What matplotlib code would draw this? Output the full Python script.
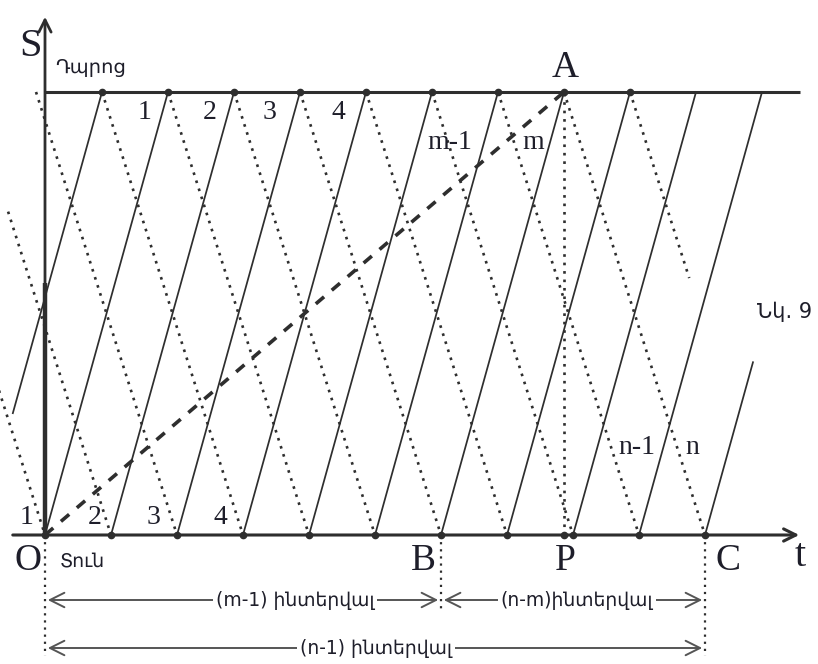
import matplotlib
matplotlib.use('Agg')
import matplotlib.pyplot as plt

# schedule, time in intervals, path S from 0 (home) to 1 (school)
home_times = [-1, 0, 1, 2, 3, 4, 5, 6, 7, 8, 9, 10]   # solid lines start
up_time = 1.864
down_time = 2.136
back_starts = [-4, -3, -2, -1, 0, 1, 2, 3, 4, 5, 6, 7]  # buses coming back (dotted)
dot_home = [0, 1, 2, 3, 4, 5, 6, 7, 8, 9, 10]
dot_school = [-1, 0, 1, 2, 3, 4, 5, 6, 7]
m_bus = 6          # B
n_bus = 10         # C
top_labels = ['1', '2', '3', '4']
bottom_labels = ['1', '2', '3', '4']

# partial lines at the ends
up_from = {-1: 0.275}
up_to = {10: 0.39}
down_from = {-3: 0.73}
down_to = {7: 0.58}

INK = '#2e2e2e'
TXT = '#1e1e2a'
SERIF = 'Liberation Serif'
ARM = 'DejaVu Sans'
DOTS = (0, (1, 2.2))


def X(px):
    return (px - 45) / 66.0


def Y(py):
    return (535 - py) / 443.0


fig = plt.figure(figsize=(8.18, 6.64), dpi=100)
ax = fig.add_axes([0, 0, 1, 1])
ax.set_xlim(X(0), X(818))
ax.set_ylim(Y(664), Y(0))
ax.axis('off')

# buses going to school
for k in home_times:
    s0 = up_from.get(k, 0.0)
    s1 = up_to.get(k, 1.0)
    ax.plot([k + up_time * s0, k + up_time * s1], [s0, s1], color=INK, lw=1.25)

# buses coming back
for k in back_starts:
    t0 = k + up_time
    s0 = down_from.get(k, 1.0)
    s1 = down_to.get(k, 0.0)
    ax.plot([t0 + down_time * (1 - s0), t0 + down_time * (1 - s1)], [s0, s1],
            color=INK, lw=1.9, linestyle=DOTS)

# axes of the diagram
ax.plot([0, X(800)], [1, 1], color=INK, lw=2.2, solid_capstyle='butt')
ax.annotate('', xy=(X(802), 0), xytext=(X(10), 0),
            arrowprops=dict(arrowstyle='->', color=INK, lw=2.2, mutation_scale=22))
ax.annotate('', xy=(0, Y(14)), xytext=(0, 0),
            arrowprops=dict(arrowstyle='->', color=INK, lw=2.0, mutation_scale=22))
ax.plot([0, 0], [0, Y(283)], color=INK, lw=3.2, solid_capstyle='butt')

# passenger O -> A
t_a = m_bus + up_time
ax.plot([0, t_a], [0, 1], color=INK, lw=2.6, linestyle=(0, (3, 2.8)))

# vertical helper lines
ax.plot([t_a, t_a], [0, 1], color=INK, lw=1.9, linestyle=DOTS)
ax.plot([0, 0], [0, Y(656)], color=INK, lw=1.6, linestyle=DOTS)
ax.plot([m_bus, m_bus], [0, Y(612)], color=INK, lw=1.6, linestyle=DOTS)
ax.plot([n_bus, n_bus], [0, Y(656)], color=INK, lw=1.6, linestyle=DOTS)

# stops
ax.plot(dot_home + [t_a], [0] * (len(dot_home) + 1), 'o', color=INK, ms=4.5)
ax.plot([k + up_time for k in dot_school], [1] * len(dot_school), 'o', color=INK, ms=4.5)

# interval arrows
arr = dict(arrowstyle='<->', color='#555555', lw=1.4, mutation_scale=26)
ax.annotate('', xy=(0, Y(600)), xytext=(m_bus, Y(600)), arrowprops=arr)
ax.annotate('', xy=(m_bus, Y(600)), xytext=(n_bus, Y(600)), arrowprops=arr)
ax.annotate('', xy=(0, Y(648)), xytext=(n_bus, Y(648)), arrowprops=arr)
box = dict(facecolor='white', edgecolor='none', pad=2)
ax.text(X(295), Y(600), '(m-1) ինտերվալ', fontsize=13.5, family=ARM, color=TXT,
        ha='center', va='center', bbox=box)
ax.text(X(577), Y(600), '(n-m)ինտերվալ', fontsize=13.5, family=ARM, color=TXT,
        ha='center', va='center', bbox=box)
ax.text(X(376), Y(648), '(n-1) ինտերվալ', fontsize=13.5, family=ARM, color=TXT,
        ha='center', va='center', bbox=box)


# letters
def lab(px, py, s, size, fam=SERIF):
    ax.text(X(px), Y(py), s, fontsize=size, family=fam, color=TXT, ha='center', va='center')


lab(30, 47, 'S', 29)
ax.text(X(55), Y(68), 'Դպրոց', fontsize=14, family=ARM, color=TXT, ha='left', va='center')
lab(565, 68, 'A', 27)
lab(28, 561, 'O', 27)
ax.text(X(60), Y(561), 'Տուն', fontsize=13.5, family=ARM, color=TXT, ha='left', va='center')
lab(423, 561, 'B', 27)
lab(565, 561, 'P', 27)
lab(728, 561, 'C', 27)
lab(800, 557, 't', 29)
ax.text(X(757), Y(312), 'Նկ. 9', fontsize=15, family=ARM, color=TXT, ha='left', va='center')

for lbl, px in zip(top_labels, [145, 210, 270, 338]):
    lab(px, 113, lbl, 20)
for lbl, px in zip(bottom_labels, [27, 95, 153, 220]):
    lab(px, 518, lbl, 20)
lab(450, 143, 'm-1', 20)
lab(533, 143, 'm', 20)
lab(637, 448, 'n-1', 20)
lab(692, 448, 'n', 20)

fig.savefig('out.png', dpi=100)
